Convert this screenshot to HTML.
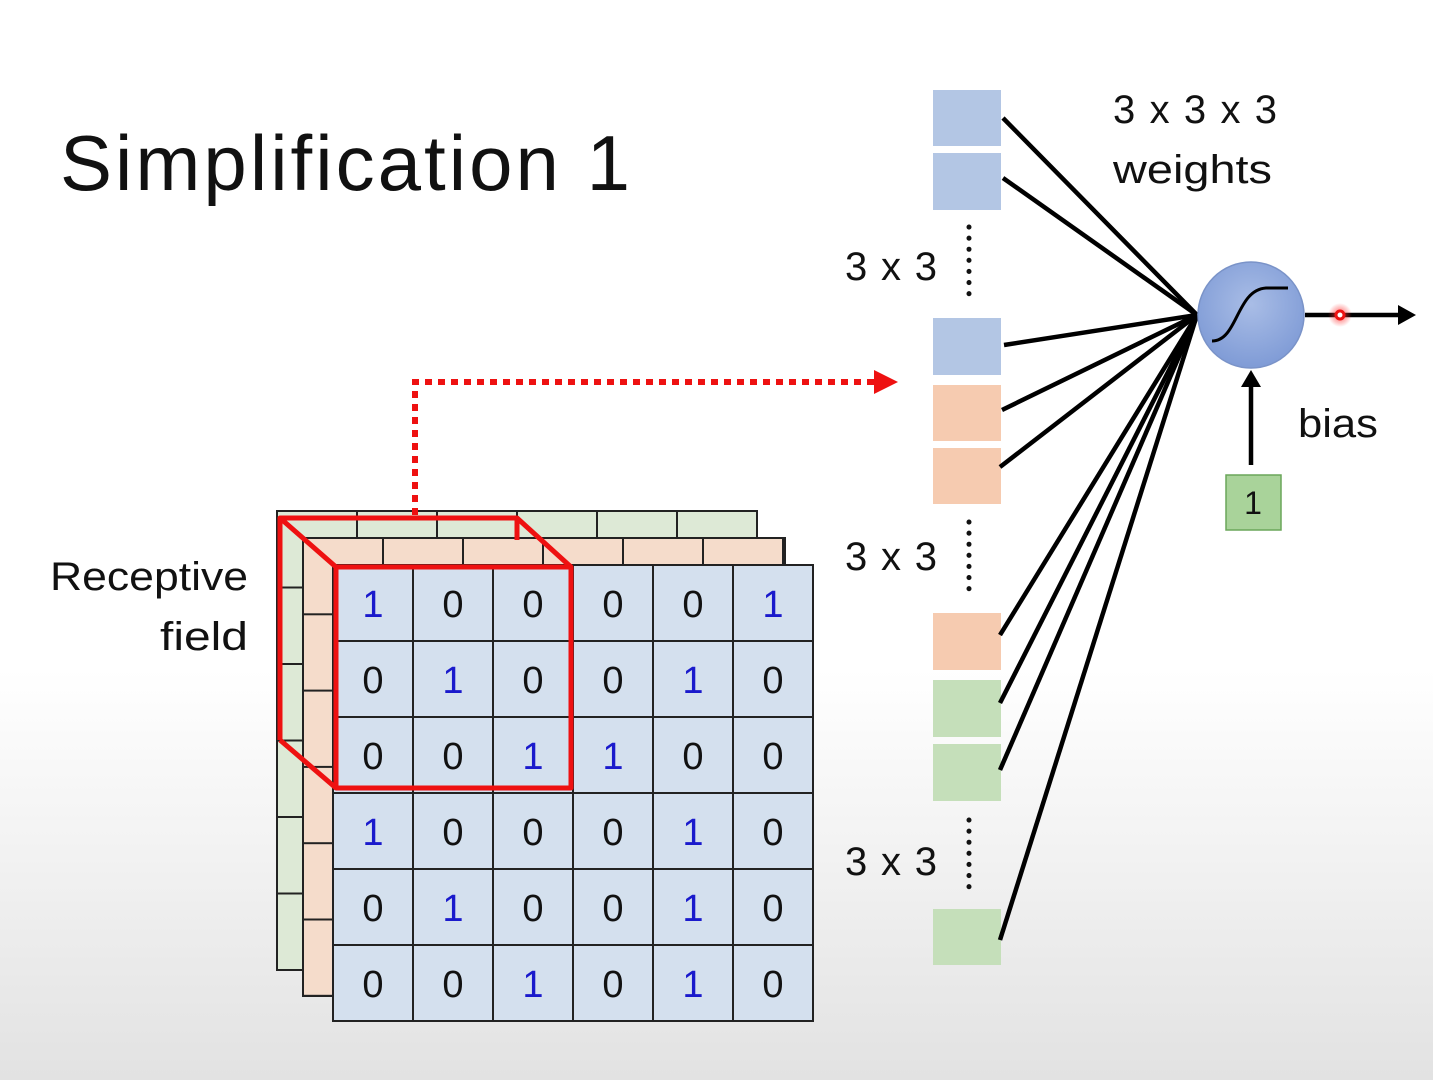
<!DOCTYPE html>
<html><head><meta charset="utf-8"><style>
html,body{margin:0;padding:0;}
body{width:1433px;height:1080px;overflow:hidden;background:linear-gradient(to bottom,#ffffff 0%,#ffffff 62%,#e2e2e2 100%);}
svg{display:block;font-family:"Liberation Sans","DejaVu Sans",sans-serif;}
</style></head><body>
<svg width="1433" height="1080" viewBox="0 0 1433 1080" xmlns="http://www.w3.org/2000/svg">
<defs>
<pattern id="gG" x="277" y="511" width="80" height="76.5" patternUnits="userSpaceOnUse"><rect width="80" height="76.5" fill="#dde9d6" stroke="#222" stroke-width="2"/></pattern>
<pattern id="gO" x="303" y="538" width="80" height="76.3" patternUnits="userSpaceOnUse"><rect width="80" height="76.3" fill="#f5dccb" stroke="#222" stroke-width="2"/></pattern>
<pattern id="gB" x="333" y="565" width="80" height="76" patternUnits="userSpaceOnUse"><rect width="80" height="76" fill="#d4e0ee" stroke="#222" stroke-width="2"/></pattern>
<radialGradient id="cg" cx="0.5" cy="0.4" r="0.6"><stop offset="0" stop-color="#a9bde6"/><stop offset="1" stop-color="#7f9bd6"/></radialGradient>
<radialGradient id="rd"><stop offset="0" stop-color="#ff3030" stop-opacity="0.8"/><stop offset="1" stop-color="#ff3030" stop-opacity="0"/></radialGradient>
</defs>
<text x="60" y="190" font-size="78" fill="#111" textLength="570" lengthAdjust="spacing">Simplification 1</text>
<text x="50" y="590" font-size="40" fill="#111" textLength="198" lengthAdjust="spacingAndGlyphs">Receptive</text>
<text x="160" y="650" font-size="40" fill="#111" textLength="88" lengthAdjust="spacingAndGlyphs">field</text>

<rect x="277" y="511" width="480" height="459" fill="url(#gG)" stroke="#222" stroke-width="2"/>
<rect x="303" y="538" width="482" height="458" fill="url(#gO)" stroke="#222" stroke-width="2"/>
<rect x="333" y="565" width="480" height="456" fill="url(#gB)" stroke="#222" stroke-width="2"/>

<g font-size="38" text-anchor="middle" fill="#111">
<text x="373" y="617" fill="#1a1acc">1</text><text x="453" y="617">0</text><text x="533" y="617">0</text><text x="613" y="617">0</text><text x="693" y="617">0</text><text x="773" y="617" fill="#1a1acc">1</text>
<text x="373" y="693">0</text><text x="453" y="693" fill="#1a1acc">1</text><text x="533" y="693">0</text><text x="613" y="693">0</text><text x="693" y="693" fill="#1a1acc">1</text><text x="773" y="693">0</text>
<text x="373" y="769">0</text><text x="453" y="769">0</text><text x="533" y="769" fill="#1a1acc">1</text><text x="613" y="769" fill="#1a1acc">1</text><text x="693" y="769">0</text><text x="773" y="769">0</text>
<text x="373" y="845" fill="#1a1acc">1</text><text x="453" y="845">0</text><text x="533" y="845">0</text><text x="613" y="845">0</text><text x="693" y="845" fill="#1a1acc">1</text><text x="773" y="845">0</text>
<text x="373" y="921">0</text><text x="453" y="921" fill="#1a1acc">1</text><text x="533" y="921">0</text><text x="613" y="921">0</text><text x="693" y="921" fill="#1a1acc">1</text><text x="773" y="921">0</text>
<text x="373" y="997">0</text><text x="453" y="997">0</text><text x="533" y="997" fill="#1a1acc">1</text><text x="613" y="997">0</text><text x="693" y="997" fill="#1a1acc">1</text><text x="773" y="997">0</text>
</g>

<g stroke="#ee1111" stroke-width="5" fill="none" stroke-linejoin="round">
<polyline points="280,740 280,518 517,518 517,540"/>
<line x1="280" y1="518" x2="336" y2="567"/>
<line x1="517" y1="518" x2="571" y2="567"/>
<line x1="280" y1="740" x2="336" y2="788"/>
<rect x="336" y="567" width="235" height="221"/>
</g>
<path d="M415,515 L415,382 L878,382" stroke="#ee1111" stroke-width="6" fill="none" stroke-dasharray="7,6"/>
<polygon points="874,370 898,382 874,394" fill="#ee1111"/>

<g>
<rect x="933" y="90" width="68" height="56" fill="#b3c6e4"/>
<rect x="933" y="153" width="68" height="57" fill="#b3c6e4"/>
<rect x="933" y="318" width="68" height="57" fill="#b3c6e4"/>
<rect x="933" y="385" width="68" height="56" fill="#f6cbb0"/>
<rect x="933" y="448" width="68" height="56" fill="#f6cbb0"/>
<rect x="933" y="613" width="68" height="57" fill="#f6cbb0"/>
<rect x="933" y="680" width="68" height="57" fill="#c5dfba"/>
<rect x="933" y="744" width="68" height="57" fill="#c5dfba"/>
<rect x="933" y="909" width="68" height="56" fill="#c5dfba"/>
</g>
<g stroke="#111" stroke-width="5" stroke-linecap="round" stroke-dasharray="0.1,11">
<line x1="969" y1="227" x2="969" y2="300"/>
<line x1="969" y1="522" x2="969" y2="595"/>
<line x1="969" y1="820" x2="969" y2="893"/>
</g>
<g font-size="40" fill="#111">
<text x="845" y="280" textLength="92" lengthAdjust="spacing">3 x 3</text>
<text x="845" y="570" textLength="92" lengthAdjust="spacing">3 x 3</text>
<text x="845" y="875" textLength="92" lengthAdjust="spacing">3 x 3</text>
<text x="1113" y="123" textLength="164" lengthAdjust="spacing">3 x 3 x 3</text>
<text x="1113" y="183" textLength="159" lengthAdjust="spacingAndGlyphs">weights</text>
<text x="1298" y="437" textLength="80" lengthAdjust="spacingAndGlyphs">bias</text>
</g>

<g stroke="#000" stroke-width="4.5" fill="none">
<line x1="1003" y1="118" x2="1197" y2="315"/>
<line x1="1003" y1="178" x2="1197" y2="315"/>
<line x1="1004" y1="345" x2="1197" y2="315"/>
<line x1="1002" y1="410" x2="1197" y2="315"/>
<line x1="1000" y1="467" x2="1197" y2="315"/>
<line x1="1000" y1="635" x2="1197" y2="315"/>
<line x1="1000" y1="703" x2="1197" y2="315"/>
<line x1="1000" y1="770" x2="1197" y2="315"/>
<line x1="1000" y1="940" x2="1197" y2="315"/>
</g>
<circle cx="1251" cy="315" r="53" fill="url(#cg)" stroke="#7a93c8" stroke-width="1.5"/>
<path d="M1212,341 C1238,341 1236,290 1266,288 L1288,288" stroke="#000" stroke-width="3" fill="none"/>
<line x1="1305" y1="315" x2="1400" y2="315" stroke="#000" stroke-width="4.5"/>
<polygon points="1398,305 1416,315 1398,325" fill="#000"/>
<circle cx="1340" cy="315" r="12" fill="url(#rd)"/>
<circle cx="1340" cy="315" r="4" fill="#fff" stroke="#ee1111" stroke-width="3"/>
<line x1="1251" y1="465" x2="1251" y2="385" stroke="#000" stroke-width="4.5"/>
<polygon points="1241,387 1251,370 1261,387" fill="#000"/>
<rect x="1226" y="475" width="55" height="55" fill="#a9d39a" stroke="#6aa65a" stroke-width="1.5"/>
<text x="1253" y="514" font-size="32" text-anchor="middle" fill="#111">1</text>
</svg>
</body></html>
